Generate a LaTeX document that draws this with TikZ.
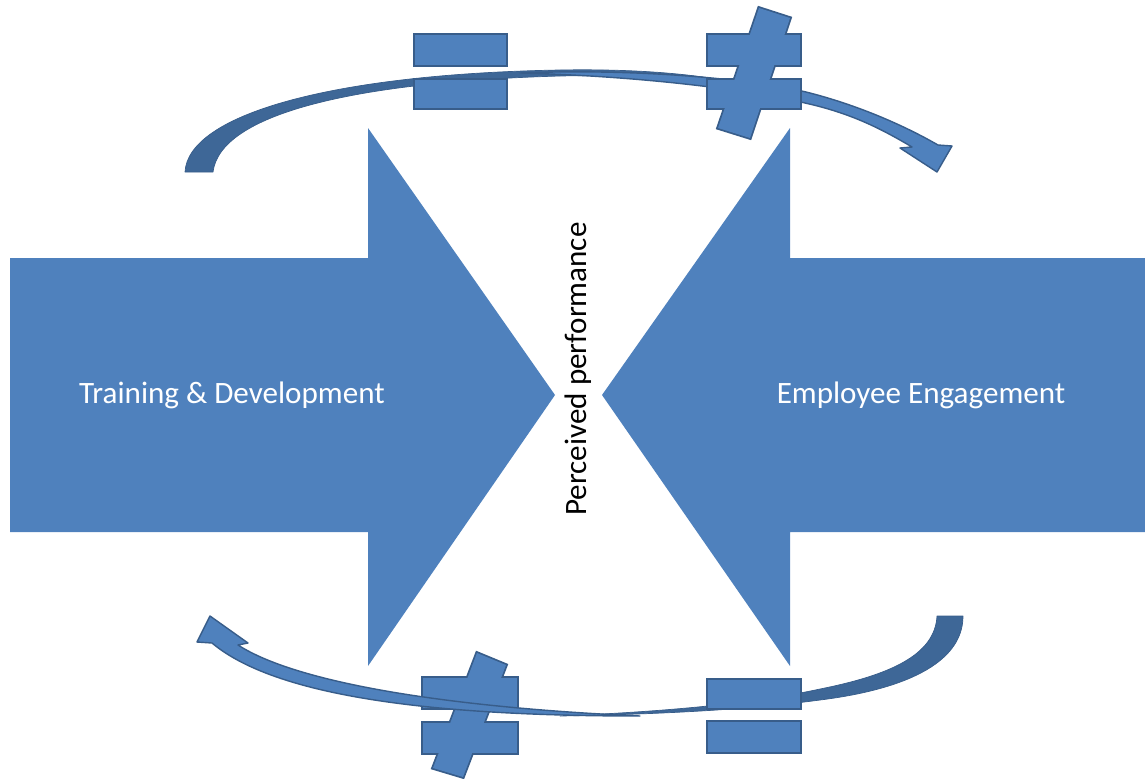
\documentclass[tikz,border=0pt]{standalone}
\usepackage{fontspec}
\setmainfont{Carlito}
\definecolor{blockblue}{HTML}{4F81BD}
\definecolor{edgeblue}{HTML}{385D8A}
\definecolor{shadeblue}{HTML}{3E6797}

\begin{document}
\begin{tikzpicture}[x=0.02cm,y=-0.02cm,line join=round,
  signedge/.style={draw=edgeblue,line width=2pt,line join=miter},
  signfill/.style={fill=blockblue},
  bandfront/.style={fill=blockblue,draw=edgeblue,line width=0.8pt},
  bandback/.style={fill=shadeblue,draw=edgeblue,line width=0.4pt},
  caption/.style={font=\fontsize{17.7}{21}\selectfont,inner sep=0pt}]
  \useasboundingbox (0,0) rectangle (1145,778);
  % big block arrows
  \fill[blockblue] (10,258) -- (368,258) -- (368,128) -- (555,395) -- (368,666) -- (368,532) -- (10,532) -- cycle;
  \fill[blockblue] (1145,258) -- (790,258) -- (790,128) -- (602,395) -- (790,666) -- (790,532) -- (1145,532) -- cycle;
  \node[caption,text=white] (train) at (232,395) {Training \& Development};
  \node[caption,text=white] (engage) at (921,395) {Employee Engagement};
  \node[caption,rotate=90] (perf) at (578,369) {Perceived performance};

  % upper curved arrow, back then front
  \path[bandback] (185,172) .. controls (188,115) and (330,74) .. (560,70)
    .. controls (620,69) and (670,72) .. (710,78)
    .. controls (660,76) and (610,75) .. (560,76)
    .. controls (350,82) and (220,115) .. (213,172) -- cycle;
  \path[bandfront] (520,73) .. controls (640,68) and (760,80) .. (810,93)
    .. controls (860,106) and (905,126) .. (938,145) -- (952,146) -- (937,172) -- (900,148) -- (912,147)
    .. controls (880,128) and (850,113) .. (805,103)
    .. controls (750,90) and (640,76) .. (520,73) -- cycle;

  % upper signs
  \foreach \p in {signedge,signfill} {
    \path[\p] (415,35) rectangle (506,65);
    \path[\p] (415,80) rectangle (506,108);
  }
  \foreach \p in {signedge,signfill} {
    \path[\p] (708,35) rectangle (800,65);
    \path[\p] (708,80) rectangle (800,108);
    \path[\p] (759,8) -- (790,18) -- (750,138) -- (718,128) -- cycle;
  }

  % lower signs and curved arrow
  \foreach \p in {signedge,signfill} {
    \path[\p] (423,678) rectangle (517,708);
    \path[\p] (423,723) rectangle (517,753);
    \path[\p] (477,653) -- (506,665) -- (463,777) -- (433,768) -- cycle;
  }
  \path[bandback] (963,616) .. controls (963,665) and (900,690) .. (820,700)
    .. controls (760,708) and (680,714) .. (560,716)
    .. controls (680,711) and (760,702) .. (820,689)
    .. controls (890,675) and (935,655) .. (937,616) -- cycle;
  \path[bandfront] (640,716) .. controls (450,716) and (280,700) .. (212,643)
    -- (197,642) -- (210,616) -- (248,643) -- (238,645)
    .. controls (300,685) and (460,708) .. (640,716) -- cycle;
  \foreach \p in {signedge,signfill} {
    \path[\p] (708,680) rectangle (800,708);
    \path[\p] (708,722) rectangle (800,752);
  }
\end{tikzpicture}
\end{document}
